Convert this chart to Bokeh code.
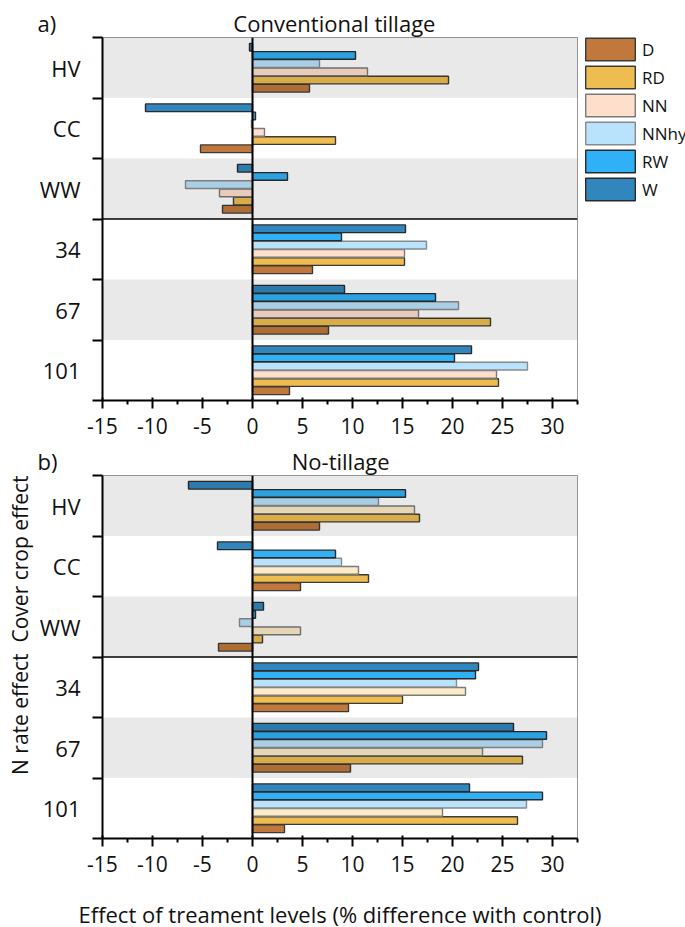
from bokeh.plotting import figure
from bokeh.models import (FactorRange, Range1d, LinearAxis, CategoricalAxis, FixedTicker,
                          Grid, Span, Title, Legend, LegendItem, ColumnDataSource,
                          CustomJSTickFormatter)
from bokeh.transform import dodge
from bokeh.layouts import column
from bokeh.embed import file_html
from bokeh.resources import INLINE

# ---------------- data ----------------
groups_bottom_up = ["101", "67", "34", "WW", "CC", "HV"]
groups = ["HV", "CC", "WW", "34", "67", "101"]
series = ["D", "RD", "NN", "NNhy", "RW", "W"]
x_ticks = [-15, -10, -5, 0, 5, 10, 15, 20, 25, 30]
x_minor = [-12.5, -7.5, -2.5, 2.5, 7.5, 12.5, 17.5, 22.5, 27.5, 32.5]

# a) Conventional tillage (values per group HV, CC, WW, 34, 67, 101)
ct_D = [5.7, -5.2, -3.0, 6.0, 7.6, 3.7]
ct_RD = [19.6, 8.3, -1.9, 15.2, 23.8, 24.6]
ct_NN = [11.5, 1.2, -3.3, 15.2, 16.6, 24.4]
ct_NNhy = [6.7, -0.1, -6.7, 17.4, 20.6, 27.5]
ct_RW = [10.3, 0.3, 3.5, 8.9, 18.3, 20.2]
ct_W = [-0.3, -10.7, -1.5, 15.3, 9.2, 21.9]

# b) No-tillage
nt_D = [6.7, 4.8, -3.4, 9.6, 9.8, 3.2]
nt_RD = [16.7, 11.6, 1.0, 15.0, 27.0, 26.5]
nt_NN = [16.2, 10.6, 4.8, 21.3, 23.0, 19.0]
nt_NNhy = [12.6, 8.9, -1.3, 20.4, 29.0, 27.4]
nt_RW = [15.3, 8.3, 0.3, 22.3, 29.4, 29.0]
nt_W = [-6.4, -3.5, 1.1, 22.6, 26.1, 21.7]

# ---------------- styles ----------------
FONT = "Open Sans"
TXT = "#111111"
NBSP = "\u00a0"
offsets = [-0.339, -0.203, -0.068, 0.068, 0.203, 0.339]
fills_top = {"D": "#c0783c", "RD": "#efbd4f", "NN": "#fedfcc", "NNhy": "#b9e3fc",
             "RW": "#30b1f5", "W": "#3286be"}
fills_bot = dict(fills_top, NN="#fcebc8")
lines = {"D": "#3a3a3a", "RD": "#3a3a3a", "NN": "#7a7a7a", "NNhy": "#8a8a8a",
         "RW": "#2a2a2a", "W": "#2a2a2a"}
boundaries = [0, 1, 2, 3, 4, 5, 6]


def make_panel(panel_tag, title, gap, data, fills, border_top, border_bottom,
               with_legend, xlabel):
    p = figure(y_range=FactorRange(factors=groups_bottom_up), x_range=Range1d(-15, 32.5),
               frame_width=475, frame_height=363, output_backend="svg",
               toolbar_location=None, x_axis_location=None, y_axis_location=None,
               min_border_left=100, min_border_right=110,
               min_border_top=border_top, min_border_bottom=border_bottom)
    p.xgrid.visible = False
    p.ygrid.visible = False
    p.outline_line_color = "#9a9a9a"
    p.outline_line_width = 1
    p.background_fill_color = "white"
    p.border_fill_color = "white"

    # panel tag + panel title on one line ("a)" at the far left, title over the frame)
    p.title = Title(text=panel_tag + NBSP * gap + title, align="left", offset=-65,
                    text_font=FONT, text_font_size="22px", text_font_style="normal",
                    text_color=TXT, standoff=0)

    src = ColumnDataSource(dict(group=groups, **data))
    renderers = []
    for j, s in enumerate(series):
        r = p.hbar(y=dodge("group", offsets[j], range=p.y_range), left=0, right=s,
                   height=0.127, source=src, fill_color=fills[s],
                   line_color=lines[s], line_width=1.4)
        renderers.append(r)

    # alternating shaded bands (drawn above the bars like a translucent overlay)
    band = Grid(dimension=1, ticker=FixedTicker(ticks=boundaries),
                grid_line_color=None, band_fill_color="black",
                band_fill_alpha=0.085, level="annotation")
    p.add_layout(band)

    p.add_layout(Span(location=0, dimension="height", line_color="black",
                      line_width=2, level="overlay"))
    p.add_layout(Span(location=3, dimension="width",
                      line_color="black", line_width=1.5, level="overlay"))

    # y axes: boundary ticks + category labels
    ya = LinearAxis(ticker=FixedTicker(ticks=boundaries),
                    formatter=CustomJSTickFormatter(code="return ''"),
                    axis_line_width=2, axis_line_color="black",
                    major_tick_line_width=2, major_tick_out=10, major_tick_in=0,
                    minor_tick_line_color=None, major_label_standoff=0,
                    major_label_text_font_size="1px")
    p.add_layout(ya, "left")
    ca = CategoricalAxis(major_tick_line_color=None, axis_line_color=None,
                         major_label_standoff=6, major_label_text_font=FONT,
                         major_label_text_font_size="22px",
                         major_label_text_color=TXT)
    p.add_layout(ca, "left")

    xa = LinearAxis(ticker=FixedTicker(ticks=x_ticks, minor_ticks=x_minor),
                    formatter=CustomJSTickFormatter(code="return tick.toString()"),
                    axis_line_width=2, axis_line_color="black",
                    major_tick_line_width=2, major_tick_out=8, major_tick_in=3,
                    minor_tick_line_width=2, minor_tick_out=4, minor_tick_in=0,
                    minor_tick_line_color="black",
                    major_label_standoff=9, major_label_text_font=FONT,
                    major_label_text_font_size="21px", major_label_text_color=TXT)
    if xlabel:
        xa.axis_label = xlabel
        xa.axis_label_text_font = FONT
        xa.axis_label_text_font_size = "22px"
        xa.axis_label_text_font_style = "normal"
        xa.axis_label_text_color = TXT
        xa.axis_label_standoff = 24
    p.add_layout(xa, "below")

    if with_legend:
        legend = Legend(items=[LegendItem(label=s, renderers=[r])
                               for s, r in zip(series, renderers)],
                        location=(2, 197), orientation="vertical",
                        glyph_width=62, glyph_height=28, spacing=0,
                        padding=0, margin=0, label_standoff=1,
                        label_text_font=FONT, label_text_font_size="17px",
                        label_text_color=TXT,
                        border_line_color=None, background_fill_alpha=0)
        p.add_layout(legend, "right")
    return p


data_ct = dict(D=ct_D, RD=ct_RD, NN=ct_NN, NNhy=ct_NNhy, RW=ct_RW, W=ct_W)
data_nt = dict(D=nt_D, RD=nt_RD, NN=nt_NN, NNhy=nt_NNhy, RW=nt_RW, W=nt_W)

p1 = make_panel("a)", "Conventional tillage", 31, data_ct, fills_top, 37, 40, True, None)
p2 = make_panel("b)", "No-tillage", 41, data_nt, fills_bot, 35, 87, False,
                "Effect of treament levels (% difference with control)")

# rotated y-axis title of the lower panel (reads bottom to top, ends near the frame top)
p2.add_layout(Title(text="N rate effect" + NBSP * 2 + "Cover crop effect", align="right",
                    offset=0, standoff=6, text_font=FONT, text_font_size="21px",
                    text_font_style="normal", text_color=TXT), "left")

layout = column(p1, p2)
open("out.html", "w").write(file_html(layout, INLINE))
